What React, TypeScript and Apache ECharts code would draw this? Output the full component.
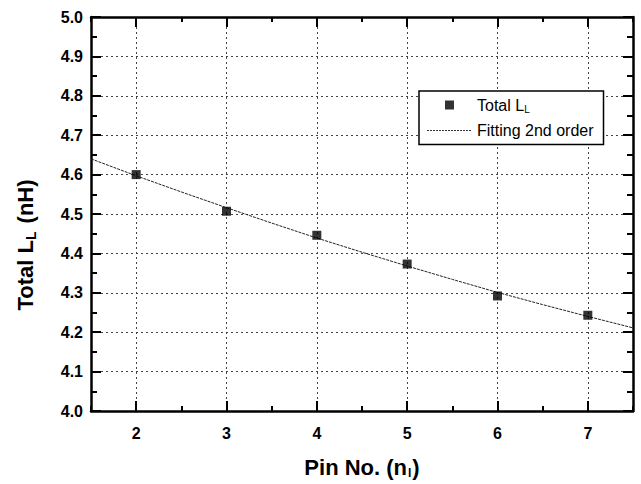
import React, { useEffect, useRef } from 'react';
import * as echarts from 'echarts';

const pins = [2, 3, 4, 5, 6, 7];
const totalL = [4.6, 4.507, 4.446, 4.373, 4.292, 4.243];
const fitX = [1.5, 2, 2.5, 3, 3.5, 4, 4.5, 5, 5.5, 6, 6.5, 7, 7.5];
const fitY = [4.64, 4.597, 4.556, 4.516, 4.477, 4.439, 4.403, 4.368, 4.334, 4.301, 4.27, 4.24, 4.211];
const xMajorTicks = [2, 3, 4, 5, 6, 7];

const FONT = '"Liberation Sans", Arial, sans-serif';

function dashedIcon(): string {
  let d = 'path://M0,0M45,14';
  for (let i = 0; i < 15; i++) {
    d += `M${i * 3},6.5h2v1h-2z`;
  }
  return d;
}

export default function App() {
  const ref = useRef<HTMLDivElement>(null);

  useEffect(() => {
    const chart = echarts.init(ref.current!, null, { renderer: 'svg' });
    const gridLine = { show: true, lineStyle: { color: '#444', width: 1, type: [2, 3] } };
    const axisLine = { show: true, onZero: false, lineStyle: { color: '#000', width: 2.5 } };
    const noLine = { show: false };
    const tickStyle = { color: '#000', width: 2 };
    const xCommon = { type: 'value', min: 1.5, max: 7.5 };
    const yCommon = { type: 'value', min: 4.0, max: 5.0, interval: 0.1 };

    chart.setOption({
      animation: false,
      backgroundColor: '#fff',
      grid: { left: 91, right: 8, top: 17, bottom: 67 },
      xAxis: [
        {
          ...xCommon,
          position: 'bottom',
          axisLine,
          axisTick: { show: true, inside: true, length: 10, customValues: xMajorTicks, lineStyle: tickStyle },
          axisLabel: {
            customValues: xMajorTicks,
            margin: 14,
            color: '#000',
            fontFamily: FONT,
            fontWeight: 'bold',
            fontSize: 16,
          },
          splitLine: gridLine,
          name: 'Pin No. (n{sub|l})',
          nameLocation: 'middle',
          nameGap: 44,
          nameTextStyle: {
            color: '#000',
            fontFamily: FONT,
            fontWeight: 'bold',
            fontSize: 22,
            rich: {
              sub: { fontFamily: FONT, fontWeight: 'bold', fontSize: 12, padding: [12, 1, 0, 1] },
            },
          },
        },
        {
          ...xCommon,
          position: 'bottom',
          interval: 0.5,
          axisLine: noLine,
          axisTick: { show: true, inside: true, length: 5, lineStyle: tickStyle },
          axisLabel: { show: false },
          splitLine: { show: false },
        },
        {
          ...xCommon,
          position: 'top',
          axisLine,
          axisTick: { show: true, inside: true, length: 10, customValues: xMajorTicks, lineStyle: tickStyle },
          axisLabel: { show: false },
          splitLine: { show: false },
        },
        {
          ...xCommon,
          position: 'top',
          interval: 0.5,
          axisLine: noLine,
          axisTick: { show: true, inside: true, length: 5, lineStyle: tickStyle },
          axisLabel: { show: false },
          splitLine: { show: false },
        },
      ],
      yAxis: [
        {
          ...yCommon,
          position: 'left',
          axisLine,
          axisTick: { show: true, inside: true, length: 10, lineStyle: tickStyle },
          minorTick: { show: true, splitNumber: 2, length: 6, lineStyle: tickStyle },
          axisLabel: {
            margin: 8,
            color: '#000',
            fontFamily: FONT,
            fontWeight: 'bold',
            fontSize: 16,
            formatter: (v: number) => v.toFixed(1),
          },
          splitLine: gridLine,
        },
        {
          ...yCommon,
          position: 'right',
          axisLine,
          axisTick: { show: true, inside: true, length: 10, lineStyle: tickStyle },
          minorTick: { show: true, splitNumber: 2, length: 6, lineStyle: tickStyle },
          axisLabel: { show: false },
          splitLine: { show: false },
        },
      ],
      legend: {
        data: [
          { name: 'Total L_L', icon: 'path://M0,0M45,14M18,2.5h9v9h-9z' },
          { name: 'Fitting 2nd order', icon: dashedIcon() },
        ],
        orient: 'vertical',
        left: 419,
        top: 91,
        itemWidth: 45,
        itemHeight: 14,
        itemGap: 8,
        padding: [6, 10, 6, 8],
        borderColor: '#000',
        borderWidth: 1.5,
        backgroundColor: '#fff',
        formatter: (n: string) => (n === 'Total L_L' ? 'Total L{sub|L}' : n),
        textStyle: {
          fontFamily: FONT,
          fontSize: 16,
          color: '#000',
          rich: {
            sub: { fontFamily: FONT, fontSize: 10, color: '#000', padding: [9, 0, 0, 0] },
          },
        },
      },
      graphic: [
        {
          type: 'text',
          x: 25,
          y: 245,
          rotation: Math.PI / 2,
          style: {
            text: 'Total L{sub|L} (nH)',
            font: 'bold 22px "Liberation Sans", Arial, sans-serif',
            fill: '#000',
            align: 'center',
            verticalAlign: 'middle',
            rich: {
              sub: {
                font: 'bold 14px "Liberation Sans", Arial, sans-serif',
                fill: '#000',
                padding: [12, 2, 0, 0],
              },
            },
          },
        },
      ],
      series: [
        {
          name: 'Total L_L',
          type: 'scatter',
          xAxisIndex: 0,
          yAxisIndex: 0,
          symbol: 'rect',
          symbolSize: 9,
          itemStyle: { color: '#000' },
          z: 5,
          data: pins.map((p, i) => [p, totalL[i]]),
        },
        {
          name: 'Fitting 2nd order',
          type: 'line',
          xAxisIndex: 0,
          yAxisIndex: 0,
          showSymbol: false,
          symbol: 'none',
          itemStyle: { color: '#333' },
          lineStyle: { color: '#222', width: 1, type: [3, 1] },
          z: 4,
          data: fitX.map((x, i) => [x, fitY[i]]),
        },
      ],
    });

    return () => chart.dispose();
  }, []);

  return (
    <div
      ref={ref}
      style={{ position: 'absolute', left: 0, top: 0, width: 641, height: 484 }}
    />
  );
}
